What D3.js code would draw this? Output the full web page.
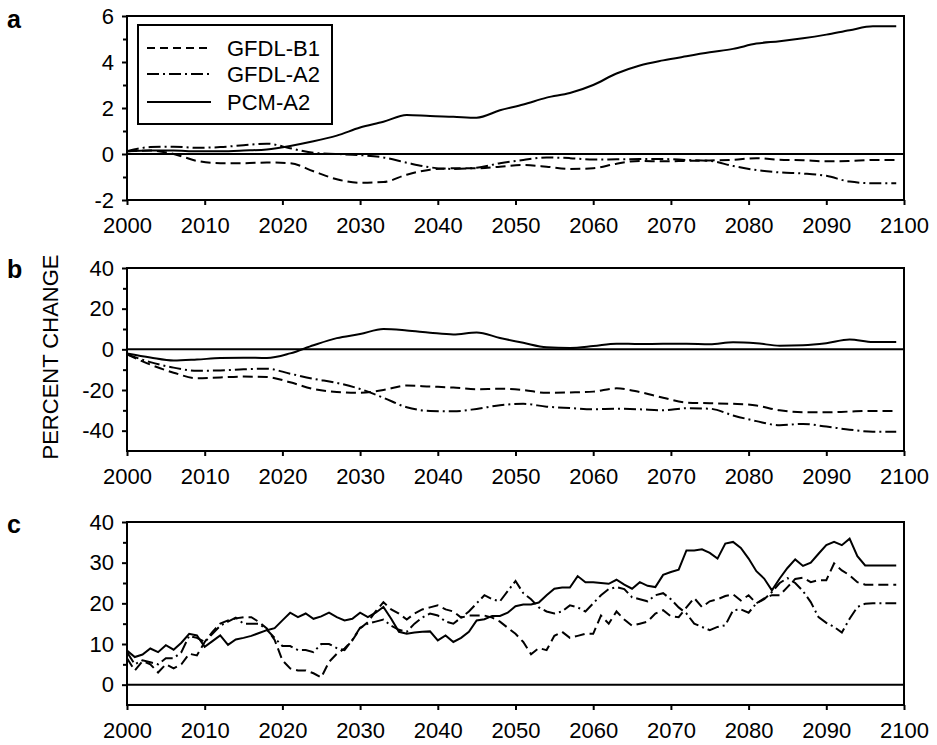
<!DOCTYPE html>
<html>
<head>
<meta charset="utf-8">
<script src="https://cdn.jsdelivr.net/npm/d3@7"></script>
<style>
  body { margin: 0; background: #fff; }
  text { font-family: Arial, "Liberation Sans", sans-serif; fill: #000; }
</style>
</head>
<body>
<div class="canvas"></div>
<script>
// years read for the smooth panels (a, b)
const yearsAB = [2000, 2003, 2006, 2009, 2012, 2015, 2018, 2021, 2024, 2027, 2030, 2033,
  2036, 2039, 2042, 2045, 2048, 2051, 2054, 2057, 2060, 2063, 2066, 2069, 2072, 2075,
  2078, 2081, 2084, 2087, 2090, 2093, 2096, 2099];
// yearly values for panel c
const yearsC = d3.range(2000, 2100);

const seriesNames = ["GFDL-B1", "GFDL-A2", "PCM-A2"];

// panel a
const aB1 = [0.12, 0.15, 0.0, -0.3, -0.4, -0.4, -0.37, -0.4, -0.75, -1.1, -1.25, -1.22,
  -0.9, -0.68, -0.62, -0.62, -0.55, -0.48, -0.55, -0.65, -0.62, -0.42, -0.3, -0.32, -0.3, -0.28,
  -0.25, -0.18, -0.25, -0.27, -0.32, -0.3, -0.26, -0.26];
const aA2 = [0.12, 0.3, 0.32, 0.27, 0.3, 0.38, 0.45, 0.25, 0.05, 0.0, -0.05, -0.15,
  -0.38, -0.58, -0.65, -0.6, -0.4, -0.26, -0.15, -0.18, -0.24, -0.23, -0.22, -0.22, -0.26, -0.3,
  -0.52, -0.7, -0.8, -0.85, -0.95, -1.2, -1.27, -1.27];
const aPCM = [0.12, 0.15, 0.15, 0.12, 0.12, 0.15, 0.2, 0.35, 0.55, 0.8, 1.15, 1.4,
  1.7, 1.65, 1.62, 1.58, 1.9, 2.15, 2.45, 2.65, 3.0, 3.5, 3.85, 4.07, 4.25, 4.42,
  4.57, 4.8, 4.9, 5.03, 5.19, 5.38, 5.55, 5.55];

// panel b
const bB1 = [-2.5, -7.5, -11.5, -14.2, -13.8, -13.4, -13.6, -16.2, -19.5, -21, -21.4, -20,
  -17.8, -18.3, -18.8, -19.6, -19.4, -20, -21.4, -21.2, -20.8, -19.2, -21, -23.8, -26.2, -26.5,
  -26.8, -27.6, -30, -30.9, -31, -30.6, -30.3, -30.3];
const bA2 = [-2.5, -6.3, -9, -10.5, -10.4, -9.8, -9.5, -12, -14.5, -16.5, -19.5, -23.8,
  -28.5, -30.3, -30.5, -29.3, -27.5, -26.8, -28.2, -28.9, -29.5, -29.2, -29.5, -30, -29, -29.2,
  -32.5, -35.3, -37.3, -36.7, -38, -39.5, -40.5, -40.5];
const bPCM = [-2, -4, -5.5, -5, -4.3, -4.1, -4.3, -2, 2, 5.5, 7.5, 10,
  9.3, 8.2, 7.3, 8.3, 5.6, 3.2, 1, 0.7, 1.6, 2.8, 2.6, 2.7, 2.7, 2.5,
  3.5, 3, 1.8, 2, 3, 4.8, 3.6, 3.6];

// panel c
const cB1 = [6.5, 3.5, 5.8, 5.0, 3.0, 5.0, 4.0, 5.0, 7.6, 7.2,
  10.5, 13.0, 15.0, 15.8, 16.3, 16.6, 16.6, 15.4, 13.8, 11.0,
  6.0, 4.0, 3.5, 3.5, 2.8, 1.8, 5.6, 7.6, 8.9, 10.9,
  13.8, 15.4, 18.0, 20.3, 18.5, 17.5, 16.0, 17.5, 18.5, 19.0,
  19.5, 18.5, 18.0, 16.5, 17.0, 17.0, 17.0, 16.5, 15.5, 14.0,
  12.5, 10.5, 7.5, 9.0, 8.5, 12.0, 13.0, 11.5, 12.0, 12.5,
  12.5, 17.0, 15.0, 18.0, 16.0, 14.5, 15.0, 15.5, 17.5, 18.3,
  16.8, 16.6, 19.0, 21.3, 19.1, 20.5, 21.0, 21.8, 22.2, 20.7,
  22.0, 20.0, 21.2, 22.0, 22.0, 24.0, 26.0, 26.3, 25.2, 25.7,
  25.7, 29.8, 28.1, 26.9, 25.2, 24.6, 24.6, 24.6, 24.6, 24.6];
const cA2 = [8.0, 5.0, 6.0, 5.5, 5.0, 6.5, 6.5, 8.0, 12.0, 11.5,
  10.5, 12.5, 14.5, 15.5, 16.5, 15.0, 15.0, 15.0, 13.5, 11.5,
  9.5, 9.5, 8.5, 8.5, 8.0, 10.0, 10.0, 9.0, 8.5, 11.0,
  14.0, 15.0, 15.5, 16.0, 14.5, 13.5, 13.0, 15.0, 16.5, 17.5,
  17.0, 15.5, 15.0, 16.5, 18.0, 20.0, 22.0, 21.0, 20.5, 23.0,
  25.5, 22.5, 21.0, 19.0, 18.0, 17.5, 18.0, 19.5, 19.0, 18.0,
  20.0, 22.0, 23.5, 24.0, 23.5, 21.5, 21.0, 20.5, 22.0, 22.5,
  21.0, 19.0, 17.5, 15.0, 14.2, 13.4, 14.2, 14.6, 18.3, 18.5,
  17.7, 20.0, 21.0, 22.8, 25.0, 26.2, 25.0, 23.0, 20.3, 16.6,
  15.2, 14.2, 12.8, 16.2, 19.1, 19.9, 20.0, 20.0, 20.0, 20.0];
const cPCM = [8.4, 6.8, 7.4, 8.9, 8.0, 9.7, 8.6, 10.3, 12.5, 12.1,
  9.3, 10.7, 12.1, 9.8, 11.1, 11.5, 12.0, 12.7, 13.4, 13.9,
  15.8, 17.7, 16.6, 17.5, 16.2, 16.8, 17.7, 16.6, 15.8, 16.2,
  17.7, 16.6, 17.7, 19.1, 16.2, 13.0, 12.5, 12.8, 13.0, 13.1,
  10.9, 12.1, 10.5, 11.5, 13.0, 15.8, 16.1, 16.9, 16.9, 17.7,
  19.3, 19.7, 19.7, 20.2, 22.0, 23.6, 23.9, 23.9, 26.7, 25.2,
  25.2, 25.0, 24.8, 25.8, 24.6, 23.6, 25.2, 24.3, 24.0, 27.0,
  27.7, 28.3, 33.0, 33.0, 33.3, 32.4, 31.0, 34.7, 35.1, 33.6,
  31.0, 27.9, 26.1, 23.2, 26.1, 28.7, 30.8, 29.2, 30.0, 32.2,
  34.3, 35.1, 34.3, 35.9, 31.6, 29.3, 29.3, 29.3, 29.3, 29.3];

const xTicks = [2000, 2010, 2020, 2030, 2040, 2050, 2060, 2070, 2080, 2090, 2100];

const styleOf = { "GFDL-B1": "10,5", "GFDL-A2": "12,4,2,4", "PCM-A2": null };

const svgWidth = 937;
const svgHeight = 745;
const left = 127;
const right = 904;
const fontSize = 22;

const svg = d3.select(".canvas")
  .append("svg")
  .attr("width", svgWidth)
  .attr("height", svgHeight);

const x = d3.scaleLinear().domain([2000, 2100]).range([left, right]);

const panels = [
  { label: "a", labelY: 28, top: 16, bottom: 200, domain: [-2, 6],
    major: [-2, 0, 2, 4, 6], minor: [-1, 1, 3, 5],
    years: yearsAB, data: [aB1, aA2, aPCM], curve: d3.curveMonotoneX },
  { label: "b", labelY: 278, top: 268, bottom: 451, domain: [-50, 40],
    major: [-40, -20, 0, 20, 40], minor: [-30, -10, 10, 30],
    years: yearsAB, data: [bB1, bA2, bPCM], curve: d3.curveMonotoneX },
  { label: "c", labelY: 533, top: 522, bottom: 705, domain: [-5, 40],
    major: [0, 10, 20, 30, 40], minor: [5, 15, 25, 35],
    years: yearsC, data: [cB1, cA2, cPCM], curve: d3.curveLinear }
];

panels.forEach(p => {
  const y = d3.scaleLinear().domain(p.domain).range([p.bottom, p.top]);
  const g = svg.append("g");

  const line = d3.line()
    .x((d, i) => x(p.years[i]))
    .y(d => y(d))
    .curve(p.curve);

  p.data.forEach((values, k) => {
    g.append("path")
      .datum(values)
      .attr("fill", "none")
      .attr("stroke", "#000")
      .attr("stroke-width", 2)
      .attr("stroke-dasharray", styleOf[seriesNames[k]])
      .attr("d", line);
  });

  // zero line
  g.append("line")
    .attr("x1", left).attr("x2", right)
    .attr("y1", y(0)).attr("y2", y(0))
    .attr("stroke", "#000").attr("stroke-width", 2);

  // frame
  g.append("rect")
    .attr("x", left).attr("y", p.top)
    .attr("width", right - left).attr("height", p.bottom - p.top)
    .attr("fill", "none").attr("stroke", "#000").attr("stroke-width", 2);

  const yAxis = d3.axisLeft(y).tickValues(p.major).tickSize(5).tickPadding(8)
    .tickFormat(d => String(d));
  const yMinor = d3.axisLeft(y).tickValues(p.minor).tickSize(4).tickFormat("");
  const xAxis = d3.axisBottom(x).tickValues(xTicks).tickSize(5).tickPadding(12)
    .tickFormat(d => String(d));

  [
    g.append("g").attr("transform", `translate(${left},0)`).call(yAxis),
    g.append("g").attr("transform", `translate(${left},0)`).call(yMinor),
    g.append("g").attr("transform", `translate(0,${p.bottom})`).call(xAxis)
  ].forEach(ax => {
    ax.select(".domain").remove();
    ax.selectAll(".tick line").attr("stroke-width", 2);
    ax.selectAll("text")
      .style("font-family", "Arial, 'Liberation Sans', sans-serif")
      .style("font-size", fontSize + "px");
  });

  svg.append("text")
    .attr("x", 7).attr("y", p.labelY)
    .style("font-size", "25px")
    .style("font-weight", "bold")
    .text(p.label);
});

// y label
svg.append("text")
  .attr("transform", "translate(58,357) rotate(-90)")
  .attr("text-anchor", "middle")
  .style("font-size", fontSize + "px")
  .text("PERCENT CHANGE");

// legend
const legend = svg.append("g");
legend.append("rect")
  .attr("x", 138).attr("y", 25).attr("width", 194).attr("height", 99)
  .attr("fill", "#fff").attr("stroke", "#000").attr("stroke-width", 2);

const legendRows = [48, 74, 102];
seriesNames.forEach((name, i) => {
  legend.append("line")
    .attr("x1", 147).attr("x2", 211)
    .attr("y1", legendRows[i]).attr("y2", legendRows[i])
    .attr("stroke", "#000").attr("stroke-width", 2)
    .attr("stroke-dasharray", name === "GFDL-B1" ? "8,5" : styleOf[name]);
  legend.append("text")
    .attr("x", 227).attr("y", legendRows[i])
    .attr("dy", "0.36em")
    .style("font-size", fontSize + "px")
    .text(name);
});
</script>
</body>
</html>
